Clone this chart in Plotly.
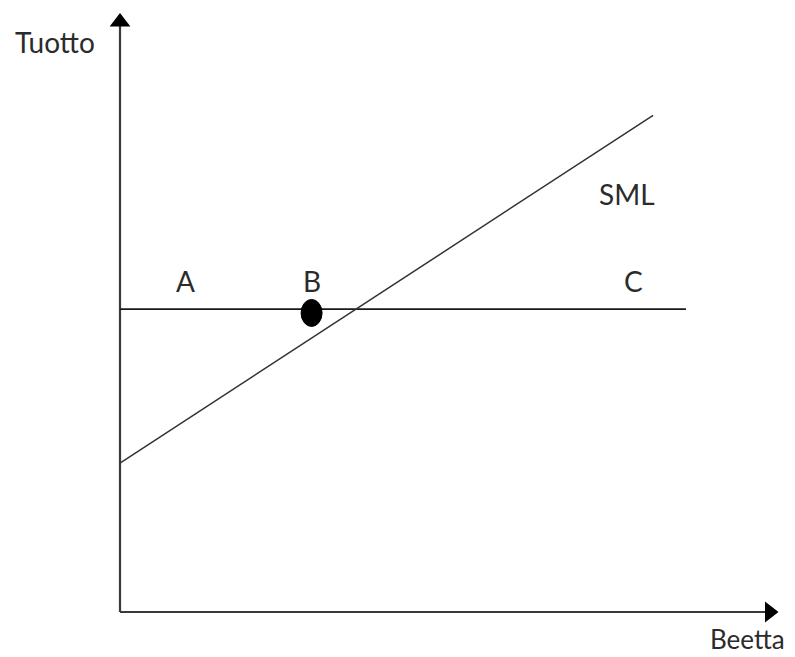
import plotly.graph_objects as go

# ---- data (beta vs. return) ----
axis_beta_max = 2.78
axis_return_max = 23.3
sml_beta = [0.0, 2.254]
sml_return = [5.8, 19.35]
level_beta = [0.0, 2.393]
level_return = [11.8, 11.8]
point_b_beta = 0.81
point_b_return = 11.65
point_labels = ["A", "B", "C"]
point_label_beta = [0.275, 0.81, 2.17]
point_label_return = [12.9, 12.9, 12.9]
sml_label = "SML"
sml_label_pos = (2.144, 16.3)
y_title = "Tuotto"
x_title = "Beetta"

# page has an 8px body margin -> figure is 787x649 at offset (8, 8)
W, H = 787, 649
xr = [-0.4736, 2.854]
yr = [-1.753, 23.53]
px_x = W / (xr[1] - xr[0])
px_y = H / (yr[1] - yr[0])

FONT = "Lato"
FS = 28
TXT = "#2b2b2b"
LINE = "#1a1a1a"

fig = go.Figure()
# axes
fig.add_trace(go.Scatter(x=[0, 0], y=[0, axis_return_max - 0.3], mode="lines",
                         line=dict(color="#3a3a3a", width=2.2), hoverinfo="skip"))
fig.add_trace(go.Scatter(x=[0, axis_beta_max - 0.03], y=[0, 0], mode="lines",
                         line=dict(color="#3a3a3a", width=2.2), hoverinfo="skip"))
# arrow heads
fig.add_trace(go.Scatter(x=[0], y=[axis_return_max - 8 / px_y], mode="markers",
                         marker=dict(symbol="triangle-up", size=18, color="black"), hoverinfo="skip"))
fig.add_trace(go.Scatter(x=[axis_beta_max - 8 / px_x], y=[0], mode="markers",
                         marker=dict(symbol="triangle-right", size=18, color="black"), hoverinfo="skip"))
# horizontal line
fig.add_trace(go.Scatter(x=level_beta, y=level_return, mode="lines",
                         line=dict(color=LINE, width=1.6), hoverinfo="skip"))
# SML
fig.add_trace(go.Scatter(x=sml_beta, y=sml_return, mode="lines",
                         line=dict(color="#333333", width=1.5), hoverinfo="skip"))
# point B as ellipse
rx, ry = 10.5 / px_x, 13.5 / px_y
fig.add_shape(type="circle", xref="x", yref="y",
              x0=point_b_beta - rx, x1=point_b_beta + rx,
              y0=point_b_return - ry, y1=point_b_return + ry,
              fillcolor="black", line=dict(color="black", width=1))

for t, bx, by in zip(point_labels, point_label_beta, point_label_return):
    fig.add_annotation(x=bx, y=by, text=t, showarrow=False,
                       font=dict(family=FONT, size=FS, color=TXT))
fig.add_annotation(x=sml_label_pos[0], y=sml_label_pos[1], text=sml_label, showarrow=False,
                   font=dict(family=FONT, size=FS, color=TXT))
fig.add_annotation(x=-0.275, y=22.2, text=y_title, showarrow=False,
                   font=dict(family=FONT, size=FS, color=TXT))
fig.add_annotation(x=2.655, y=0, yref="paper", text=x_title, showarrow=False, yanchor="bottom",
                   font=dict(family=FONT, size=FS - 2, color=TXT))

fig.update_layout(width=W, height=H, margin=dict(l=0, r=0, t=0, b=0),
                  paper_bgcolor="white", plot_bgcolor="white", showlegend=False,
                  xaxis=dict(range=xr, visible=False, fixedrange=True),
                  yaxis=dict(range=yr, visible=False, fixedrange=True))
fig.write_html("out.html")
